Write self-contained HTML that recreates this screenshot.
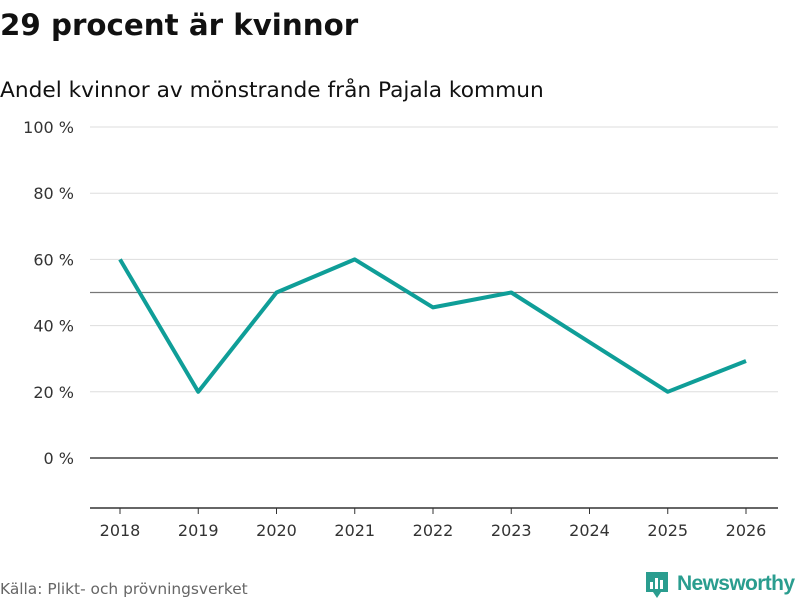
<!DOCTYPE html>
<html><head><meta charset="utf-8"><style>
body{margin:0;background:#fff;width:800px;height:600px;overflow:hidden;font-family:"DejaVu Sans","Liberation Sans",sans-serif;}
</style></head><body>
<svg width="800" height="600" xmlns="http://www.w3.org/2000/svg">
<text x="0" y="35" font-size="29.3" font-weight="bold" fill="#111">29 procent är kvinnor</text>
<text x="0" y="97" font-size="21.7" fill="#111">Andel kvinnor av mönstrande från Pajala kommun</text>
<g id="grid"></g><g id="xaxis"></g>
<path id="line" fill="none" stroke="#0f9e98" stroke-width="4" stroke-linejoin="round"/>
<text x="0" y="594" font-size="15.4" fill="#666">Källa: Plikt- och prövningsverket</text>
<g>
<path d="M646 572h22v20h-7l-4 6-4-6h-7z" fill="#2a9d8f"/>
<rect x="650" y="582" width="3" height="7" fill="#fff"/><rect x="655" y="578" width="3" height="11" fill="#fff"/><rect x="660" y="580" width="3" height="9" fill="#fff"/>
<text x="677" y="590" font-size="21" font-weight="bold" fill="#2a9d8f" font-family="Liberation Sans, sans-serif" textLength="118">Newsworthy</text>
</g>
</svg>
<script>
const years=[2018,2019,2020,2021,2022,2023,2024,2025,2026];
const values=[60,20,50,60,45.5,50,35,20,29.3];
const yTicks=[0,20,40,60,80,100];
const ns="http://www.w3.org/2000/svg";
const x=i=>120+i*78.25;
const y=v=>458-v*3.31;
const grid=document.getElementById('grid');
function mk(t,a,p){const e=document.createElementNS(ns,t);for(const k in a)e.setAttribute(k,a[k]);p.appendChild(e);return e;}
yTicks.forEach(v=>{
 const l=mk('line',{x1:90,x2:778,y1:y(v),y2:y(v),stroke:v===0?'#444':'#ddd','stroke-width':v===0?1.5:1},grid);
 
 
 const t=mk('text',{x:74,y:y(v)+6,'text-anchor':'end','font-size':16,fill:'#333'},grid);
 t.textContent=v+' %';
 
 
});
const ref=mk('line',{x1:90,x2:778,y1:y(50),y2:y(50),stroke:'#777','stroke-width':1.2},grid);


const xa=document.getElementById('xaxis');
const ax=mk('line',{x1:90,x2:778,y1:508,y2:508,stroke:'#333','stroke-width':1.5},xa);


years.forEach((yr,i)=>{
 const tk=mk('line',{x1:x(i),x2:x(i),y1:508,y2:514,stroke:'#333'},xa);
 
 
 const t=mk('text',{x:x(i),y:536,'text-anchor':'middle','font-size':16,fill:'#333'},xa);
 t.textContent=yr;
 
 
});
document.getElementById('line').setAttribute('d',values.map((v,i)=>(i?'L':'M')+x(i)+' '+y(v)).join(''));
</script>
</body></html>
